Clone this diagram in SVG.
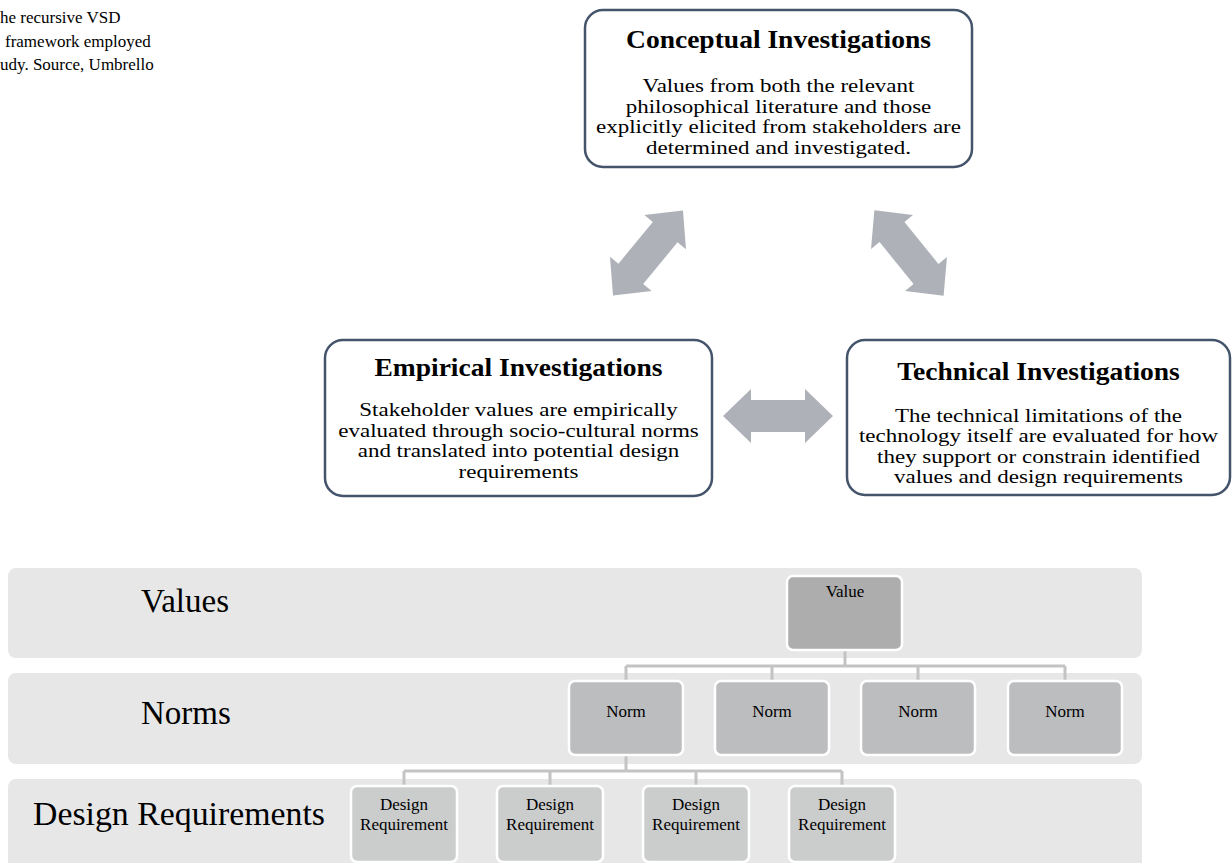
<svg xmlns="http://www.w3.org/2000/svg" width="1232" height="863" viewBox="0 0 1232 863">
<defs>
<style>
.t{font-family:"Liberation Serif","Times New Roman",serif;fill:#000}
.cap{font-size:17px}
.ttl{font-size:25.5px;font-weight:bold;text-anchor:middle}
.bd{font-size:19px;text-anchor:middle}
.box{fill:#fff;stroke:#44546a;stroke-width:2.5}
.band{fill:#e7e7e7}
.lbl{font-size:33px}
.sm{font-size:17px;text-anchor:middle}
.val{fill:#adadad;stroke:#fff;stroke-width:2.5}
.nrm{fill:#bcbdbf;stroke:#fff;stroke-width:2.5}
.dr{fill:#cbcccc;stroke:#fff;stroke-width:2.5}
.arr{fill:#aeb1b8}
.con{fill:none;stroke:#c3c3c3;stroke-width:3}
</style>
<polygon id="dbl" points="-55,0 -27,-27 -27,-16 27,-16 27,-27 55,0 27,27 27,16 -27,16 -27,27"/>
</defs>

<g id="caption">
<text class="t cap" x="0" y="23">he recursive VSD</text>
<text class="t cap" x="5" y="47">framework employed</text>
<text class="t cap" x="0" y="70">udy. Source, Umbrello</text>
</g>

<g id="conceptual">
<rect class="box" x="585" y="10" width="387" height="157" rx="18"/>
<g transform="translate(778.5 0) scale(1.08 1)"><text class="t ttl" x="0" y="48">Conceptual Investigations</text></g>
<g transform="translate(778.5 0) scale(1.21 1)">
<text class="t bd" x="0" y="92.5">Values from both the relevant</text>
<text class="t bd" x="0" y="113">philosophical literature and those</text>
<text class="t bd" x="0" y="133.5">explicitly elicited from stakeholders are</text>
<text class="t bd" x="0" y="154">determined and investigated.</text>
</g>
</g>

<g id="empirical">
<rect class="box" x="325" y="340" width="387" height="156" rx="18"/>
<g transform="translate(518.5 0) scale(1.08 1)"><text class="t ttl" x="0" y="376">Empirical Investigations</text></g>
<g transform="translate(518.5 0) scale(1.21 1)">
<text class="t bd" x="0" y="416.5">Stakeholder values are empirically</text>
<text class="t bd" x="0" y="437">evaluated through socio-cultural norms</text>
<text class="t bd" x="0" y="457.5">and translated into potential design</text>
<text class="t bd" x="0" y="478">requirements</text>
</g>
</g>

<g id="technical">
<rect class="box" x="847" y="340" width="383" height="155" rx="18"/>
<g transform="translate(1038.5 0) scale(1.08 1)"><text class="t ttl" x="0" y="380">Technical Investigations</text></g>
<g transform="translate(1038.5 0) scale(1.21 1)">
<text class="t bd" x="0" y="422">The technical limitations of the</text>
<text class="t bd" x="0" y="442.5">technology itself are evaluated for how</text>
<text class="t bd" x="0" y="463">they support or constrain identified</text>
<text class="t bd" x="0" y="483">values and design requirements</text>
</g>
</g>

<g id="arrows">
<use href="#dbl" class="arr" transform="translate(648,253) rotate(-50.5)"/>
<use href="#dbl" class="arr" transform="translate(909,253) rotate(51)"/>
<use href="#dbl" class="arr" transform="translate(778,416)"/>
</g>

<g id="bands">
<rect class="band" x="8" y="568" width="1134" height="90" rx="8"/>
<rect class="band" x="8" y="673" width="1134" height="91" rx="8"/>
<rect class="band" x="8" y="779" width="1134" height="92" rx="8"/>
<text class="t lbl" x="141" y="612">Values</text>
<text class="t lbl" x="141" y="724">Norms</text>
<text class="t lbl" x="33" y="825" textLength="292" lengthAdjust="spacingAndGlyphs">Design Requirements</text>
</g>

<g id="connectors">
<path class="con" d="M845,650 V666 M626,666 H1065 M626,666 V681 M772,666 V681 M918,666 V681 M1065,666 V681"/>
<path class="con" d="M626,755 V771 M404,771 H842 M404,771 V786 M550,771 V786 M696,771 V786 M842,771 V786"/>
</g>

<g id="value">
<rect class="val" x="787" y="576" width="115" height="74" rx="6"/>
<text class="t sm" x="845" y="597">Value</text>
</g>
<g id="norm1"><rect class="nrm" x="569" y="681" width="114" height="74" rx="6"/><text class="t sm" x="626" y="717">Norm</text></g>
<g id="norm2"><rect class="nrm" x="715" y="681" width="114" height="74" rx="6"/><text class="t sm" x="772" y="717">Norm</text></g>
<g id="norm3"><rect class="nrm" x="861" y="681" width="114" height="74" rx="6"/><text class="t sm" x="918" y="717">Norm</text></g>
<g id="norm4"><rect class="nrm" x="1008" y="681" width="114" height="74" rx="6"/><text class="t sm" x="1065" y="717">Norm</text></g>

<g id="dr1"><rect class="dr" x="351" y="786" width="106" height="76" rx="6"/><text class="t sm" x="404" y="810">Design</text><text class="t sm" x="404" y="830">Requirement</text></g>
<g id="dr2"><rect class="dr" x="497" y="786" width="106" height="76" rx="6"/><text class="t sm" x="550" y="810">Design</text><text class="t sm" x="550" y="830">Requirement</text></g>
<g id="dr3"><rect class="dr" x="643" y="786" width="106" height="76" rx="6"/><text class="t sm" x="696" y="810">Design</text><text class="t sm" x="696" y="830">Requirement</text></g>
<g id="dr4"><rect class="dr" x="789" y="786" width="106" height="76" rx="6"/><text class="t sm" x="842" y="810">Design</text><text class="t sm" x="842" y="830">Requirement</text></g>
</svg>
